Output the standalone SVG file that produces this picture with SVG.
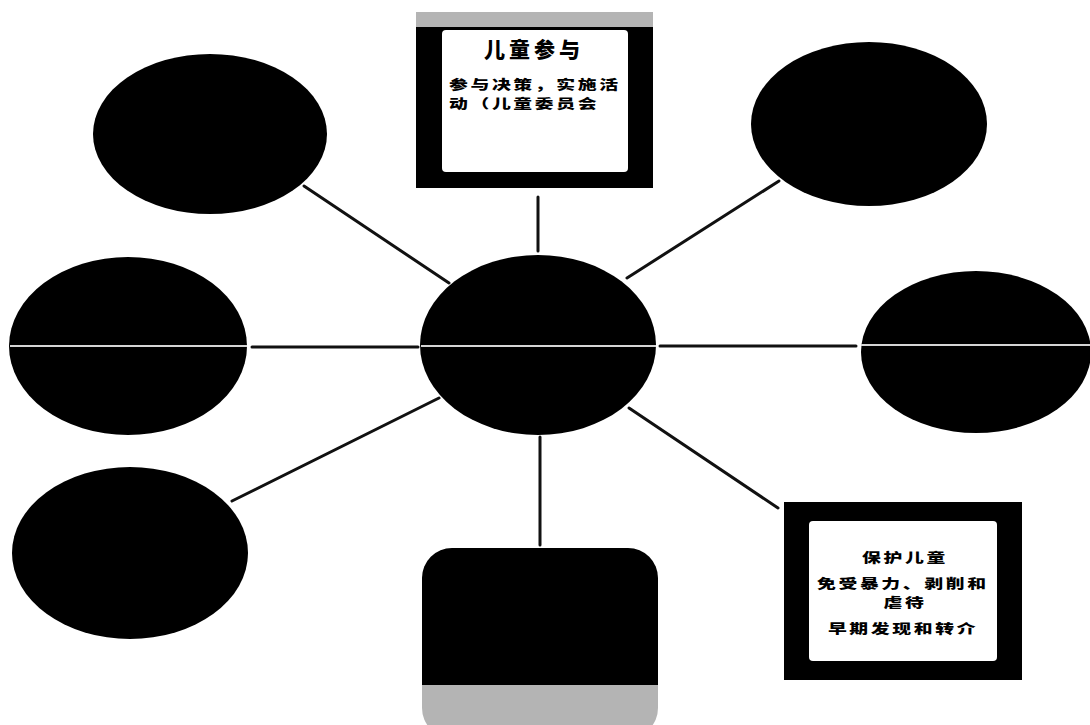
<svg xmlns="http://www.w3.org/2000/svg" width="1090" height="725" viewBox="0 0 1090 725">
  <defs>
    <style>
      .blob { fill: #000; }
      .conn { stroke: #111; stroke-width: 3; stroke-linecap: round; fill: none; }
      .axis { stroke: #d4d4d4; stroke-width: 2; fill: none; }
      .frame { fill: #000; }
      .inner { fill: #fff; }
      .shade { fill: #b4b4b4; }
      .t { font-family: "Noto Sans CJK SC", "Noto Sans", sans-serif; font-weight: 900; fill: #000; }
      .title { font-size: 21px; letter-spacing: 4px; }
      .body { font-size: 13px; letter-spacing: 1.8px; }
    </style>
    <clipPath id="bottomClip">
      <rect x="422" y="548" width="236" height="190" rx="30" ry="30"/>
    </clipPath>
  </defs>
  <rect width="1090" height="725" fill="#fff"/>

  <g id="connectors">
    <line class="conn" x1="304" y1="186" x2="449" y2="283"/>
    <line class="conn" x1="538" y1="197" x2="538" y2="251"/>
    <line class="conn" x1="779" y1="181" x2="627" y2="278"/>
    <line class="conn" x1="252" y1="347" x2="418" y2="347"/>
    <line class="conn" x1="660" y1="346" x2="856" y2="346"/>
    <line class="conn" x1="232" y1="501" x2="439" y2="398"/>
    <line class="conn" x1="540" y1="437" x2="540" y2="545"/>
    <line class="conn" x1="629" y1="408" x2="778" y2="508"/>
  </g>

  <g id="node-center">
    <ellipse class="blob" cx="538" cy="345" rx="118" ry="90"/>
    <line class="axis" x1="421" y1="346" x2="656" y2="346"/>
  </g>

  <g id="node-top-left">
    <ellipse class="blob" cx="210" cy="134" rx="117" ry="80"/>
  </g>

  <g id="node-top-right">
    <ellipse class="blob" cx="869" cy="124" rx="118" ry="82"/>
  </g>

  <g id="node-left">
    <ellipse class="blob" cx="128" cy="346" rx="119" ry="89"/>
    <line class="axis" x1="10" y1="346" x2="247" y2="346"/>
  </g>

  <g id="node-right">
    <ellipse class="blob" cx="976" cy="352" rx="115" ry="81"/>
    <line class="axis" x1="861" y1="345" x2="1090" y2="345"/>
  </g>

  <g id="node-bottom-left">
    <ellipse class="blob" cx="130" cy="553" rx="118" ry="86"/>
  </g>

  <g id="node-top-box">
    <rect class="shade" x="416" y="12" width="237" height="16"/>
    <rect class="frame" x="416" y="27" width="237" height="161"/>
    <rect class="inner" x="442" y="30" width="186" height="142" rx="4" ry="4"/>
    <text class="t title" x="534" y="57" text-anchor="middle">儿童参与</text>
    <text class="t body" transform="translate(449,89) scale(1.45,1)">参与决策，实施活</text>
    <text class="t body" transform="translate(449,108) scale(1.45,1)">动（儿童委员会</text>
  </g>

  <g id="node-bottom-box">
    <g clip-path="url(#bottomClip)">
      <rect class="frame" x="422" y="548" width="236" height="137"/>
      <rect class="shade" x="422" y="685" width="236" height="50"/>
    </g>
  </g>

  <g id="node-bottom-right-box">
    <rect class="frame" x="784" y="502" width="238" height="178"/>
    <rect class="inner" x="809" y="521" width="188" height="140" rx="4" ry="4"/>
    <text class="t body" text-anchor="middle" transform="translate(905,562) scale(1.45,1)">保护儿童</text>
    <text class="t body" transform="translate(817,588) scale(1.45,1)">免受暴力、剥削和</text>
    <text class="t body" text-anchor="middle" transform="translate(905,607) scale(1.45,1)">虐待</text>
    <text class="t body" text-anchor="middle" transform="translate(903,633) scale(1.45,1)">早期发现和转介</text>
  </g>
</svg>
